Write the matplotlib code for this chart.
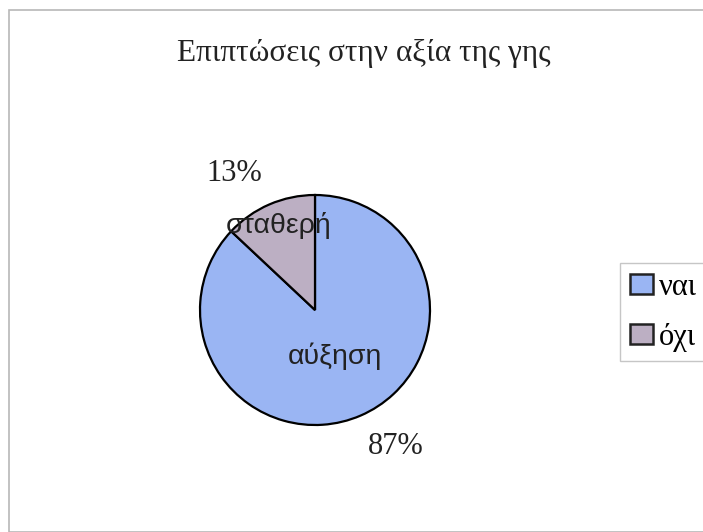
import numpy as np
import matplotlib.pyplot as plt
from matplotlib.patches import Rectangle

title = "Επιπτώσεις στην αξία της γης"
legend_labels = ["ναι", "όχι"]
wedge_labels = ["αύξηση", "σταθερή"]
values = [87, 13]
colors = ["#9ab5f3", "#bcafc3"]

W, H = 703, 532
fig = plt.figure(figsize=(W / 100, H / 100), dpi=100)

# outer chart frame (runs off the right and bottom edges)
fig.add_artist(Rectangle((9 / W, 0), 1, 1 - 10 / H, transform=fig.transFigure,
                         fill=False, edgecolor="#b8b8b8", lw=1.2))

fig.text(364 / W, 1 - 53 / H, title, ha="center", va="center",
         family="Liberation Serif", fontsize=22.5, color="#222222")

# pie axes, centre (315, 310) px, radius 115 px
cx, cy, r = 315, 310, 115
ax = fig.add_axes([(cx - 1.25 * r) / W, 1 - (cy + 1.25 * r) / H, 2.5 * r / W, 2.5 * r / H])
wedges, _ = ax.pie(values, colors=colors, startangle=90, counterclock=False,
                   wedgeprops=dict(edgecolor="black", linewidth=1.6))
ax.set_xlim(-1.25, 1.25)
ax.set_ylim(-1.25, 1.25)
ax.set_aspect("equal")
ax.axis("off")

label_dist = [0.44, 0.8]
pct_dist = 1.38
total = sum(values)
for w, lab, v, d in zip(wedges, wedge_labels, values, label_dist):
    mid = np.deg2rad((w.theta1 + w.theta2) / 2)
    ax.text(d * np.cos(mid), d * np.sin(mid), lab, ha="center", va="center",
            family="Liberation Sans", fontsize=20.5, color="#222222")
    ang = mid + np.deg2rad(7)
    ax.text(pct_dist * np.cos(ang), pct_dist * np.sin(ang), f"{round(100 * v / total)}%",
            ha="center", va="center", family="Liberation Serif", fontsize=22,
            color="#222222", clip_on=False)

leg = fig.legend(wedges, legend_labels, loc="upper left",
                 bbox_to_anchor=(620 / W, 1 - 263 / H), frameon=True, fancybox=False,
                 prop=dict(family="Liberation Serif", size=22), handlelength=0.75,
                 handleheight=0.62, handletextpad=0.2, labelspacing=0.68,
                 borderpad=0.32, borderaxespad=0)
leg.get_frame().set_edgecolor("#b8b8b8")
leg.get_frame().set_linewidth(1.0)
for h in leg.legend_handles:
    h.set_edgecolor("#222222")
    h.set_linewidth(1.8)

fig.savefig("out.png", dpi=100)
